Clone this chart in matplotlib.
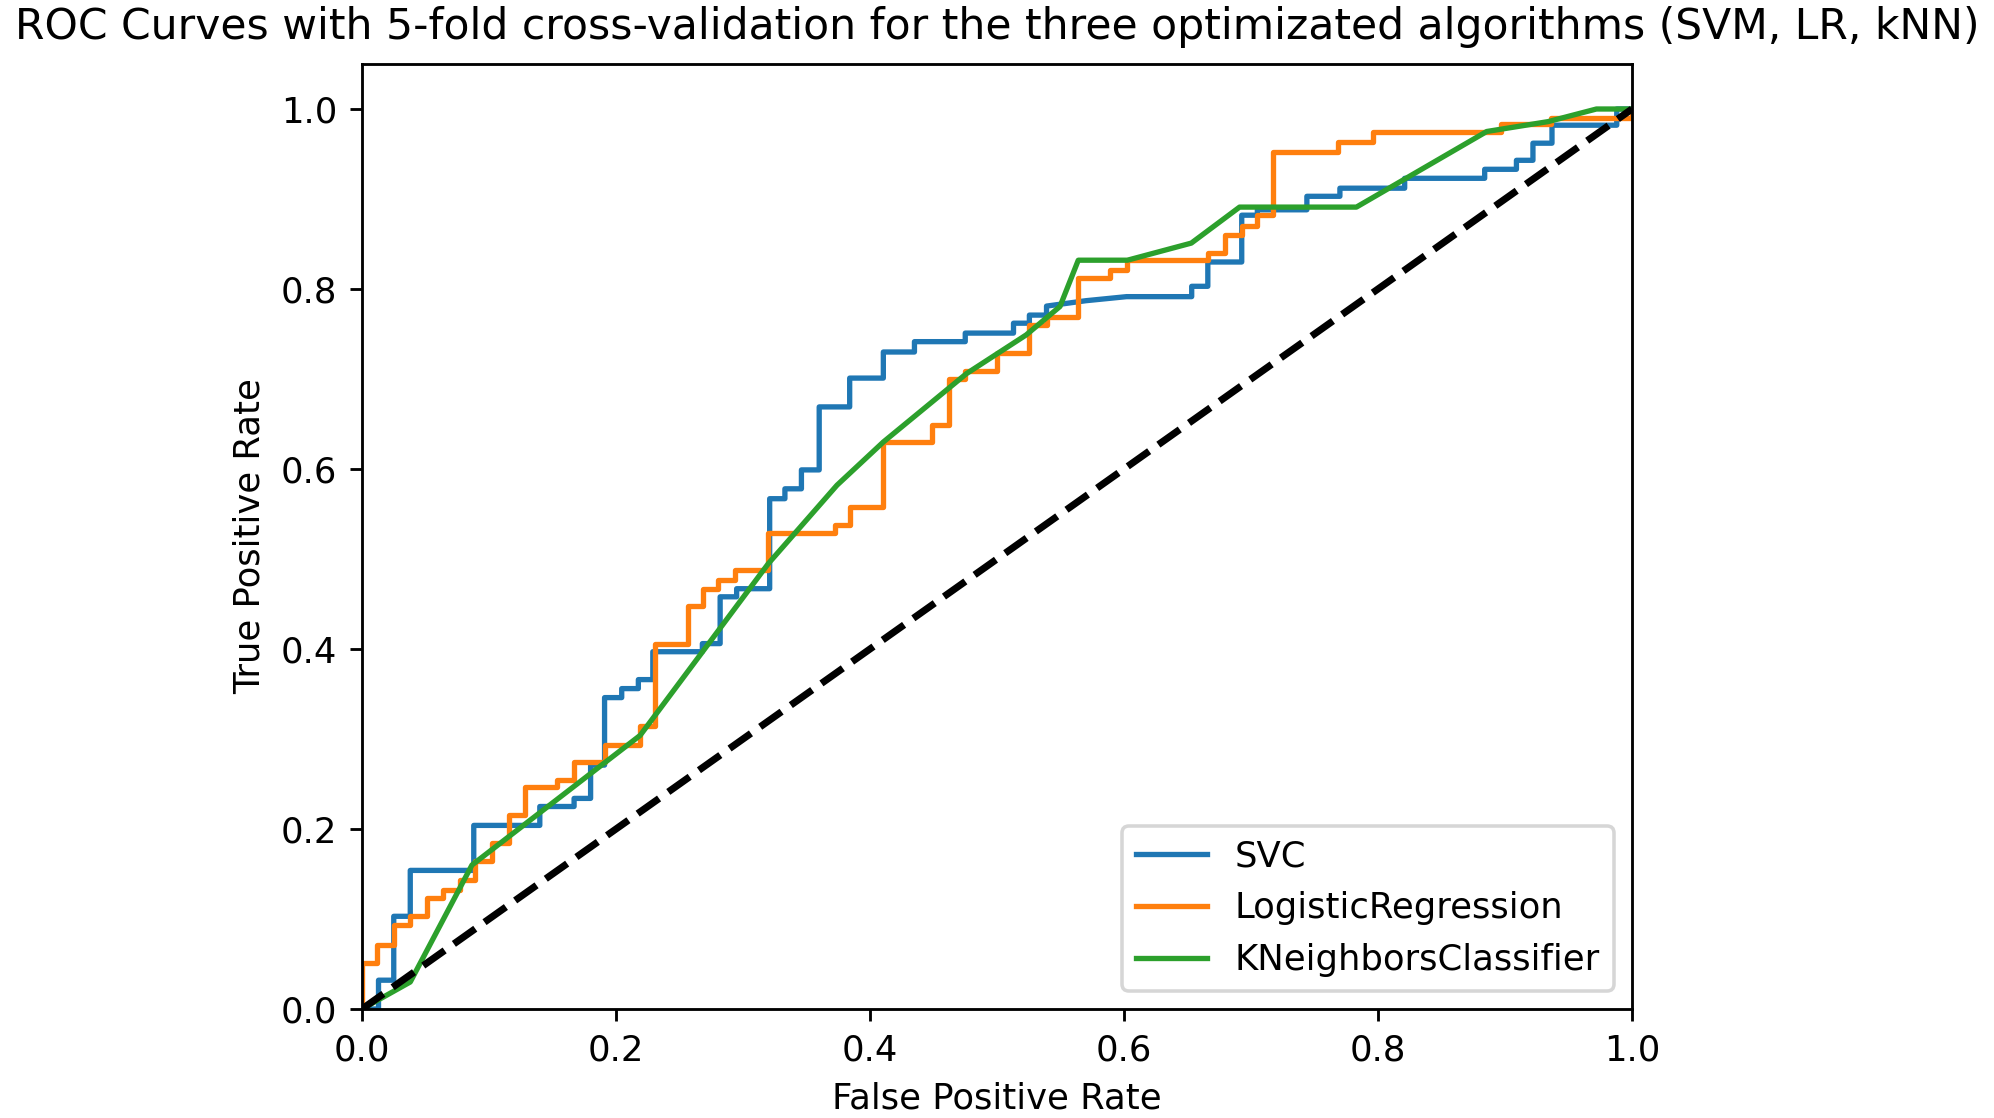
import matplotlib
matplotlib.use("Agg")
import matplotlib.pyplot as plt

# ROC vertices (fpr, tpr), one pair of lists per model
svc_fpr = [0, 0.013, 0.013, 0.025, 0.025, 0.038, 0.038, 0.088, 0.088, 0.140, 0.140, 0.167, 0.167,
           0.180, 0.180, 0.191, 0.191, 0.2045, 0.2045, 0.2176, 0.2176, 0.229, 0.229, 0.268, 0.268,
           0.282, 0.282, 0.295, 0.295, 0.321, 0.321, 0.333, 0.333, 0.346, 0.346, 0.360, 0.360,
           0.384, 0.384, 0.4105, 0.4105, 0.435, 0.435, 0.475, 0.475, 0.513, 0.513, 0.5255, 0.5255,
           0.539, 0.539, 0.57, 0.602, 0.6533, 0.6533, 0.666, 0.666, 0.6927, 0.6927, 0.705, 0.705,
           0.744, 0.744, 0.770, 0.770, 0.821, 0.821, 0.884, 0.884, 0.909, 0.909, 0.922, 0.922,
           0.937, 0.937, 0.988, 0.988, 1.0]
svc_tpr = [0, 0, 0.032, 0.032, 0.103, 0.103, 0.154, 0.154, 0.204, 0.204, 0.225, 0.225, 0.234,
           0.234, 0.271, 0.271, 0.346, 0.346, 0.356, 0.356, 0.366, 0.366, 0.397, 0.397, 0.406,
           0.406, 0.458, 0.458, 0.467, 0.467, 0.567, 0.567, 0.578, 0.578, 0.599, 0.599, 0.669,
           0.669, 0.701, 0.701, 0.730, 0.730, 0.7415, 0.7415, 0.751, 0.751, 0.762, 0.762, 0.771,
           0.771, 0.781, 0.787, 0.7915, 0.7915, 0.803, 0.803, 0.830, 0.830, 0.882, 0.882, 0.888,
           0.888, 0.903, 0.903, 0.912, 0.912, 0.923, 0.923, 0.933, 0.933, 0.943, 0.943, 0.962,
           0.962, 0.982, 0.982, 1.0, 1.0]

lr_fpr = [0, 0, 0.012, 0.012, 0.025, 0.025, 0.038, 0.038, 0.051, 0.051, 0.064, 0.064, 0.077, 0.077,
          0.089, 0.089, 0.102, 0.102, 0.1155, 0.1155, 0.1286, 0.1286, 0.1535, 0.1535, 0.167, 0.167,
          0.191, 0.191, 0.219, 0.219, 0.231, 0.231, 0.257, 0.257, 0.2685, 0.2685, 0.2806, 0.2806,
          0.294, 0.294, 0.320, 0.320, 0.3724, 0.3724, 0.384, 0.384, 0.4105, 0.4105, 0.4486, 0.4486,
          0.462, 0.462, 0.475, 0.475, 0.4998, 0.4998, 0.5255, 0.5255, 0.539, 0.539, 0.564, 0.564,
          0.589, 0.589, 0.602, 0.602, 0.666, 0.666, 0.6795, 0.6795, 0.6927, 0.6927, 0.7045, 0.7045,
          0.7176, 0.7176, 0.7688, 0.7688, 0.796, 0.796, 0.897, 0.897, 0.936, 0.936, 1.0, 1.0]
lr_tpr = [0, 0.051, 0.051, 0.071, 0.071, 0.093, 0.093, 0.103, 0.103, 0.123, 0.123, 0.132, 0.132,
          0.143, 0.143, 0.164, 0.164, 0.184, 0.184, 0.2156, 0.2156, 0.247, 0.247, 0.254, 0.254,
          0.275, 0.275, 0.293, 0.293, 0.314, 0.314, 0.406, 0.406, 0.448, 0.448, 0.467, 0.467,
          0.477, 0.477, 0.488, 0.488, 0.5285, 0.5285, 0.538, 0.538, 0.558, 0.558, 0.630, 0.630,
          0.649, 0.649, 0.700, 0.700, 0.709, 0.709, 0.7285, 0.7285, 0.760, 0.760, 0.769, 0.769,
          0.812, 0.812, 0.8206, 0.8206, 0.832, 0.832, 0.8397, 0.8397, 0.860, 0.860, 0.8696, 0.8696,
          0.882, 0.882, 0.9526, 0.9526, 0.9637, 0.9637, 0.975, 0.975, 0.983, 0.983, 0.99, 0.99, 1.0]

knn_fpr = [0, 0.038, 0.0866, 0.219, 0.32, 0.374, 0.4105, 0.476, 0.523, 0.5496, 0.564, 0.6027,
           0.653, 0.691, 0.783, 0.8856, 0.934, 0.972, 1.0]
knn_tpr = [0, 0.030, 0.160, 0.304, 0.495, 0.582, 0.630, 0.706, 0.749, 0.7806, 0.832, 0.832,
           0.851, 0.891, 0.891, 0.975, 0.986, 1.0, 1.0]

# default matplotlib look, rendered at a higher dpi so text and lines scale up
DPI = 255
fig = plt.figure(figsize=(1994 / DPI, 1118 / DPI), dpi=DPI)
ax = fig.add_axes([362 / 1994, 1 - 1009 / 1118, 1270 / 1994, 945 / 1118])

ax.plot(svc_fpr, svc_tpr, label="SVC")
ax.plot(lr_fpr, lr_tpr, label="LogisticRegression")
ax.plot(knn_fpr, knn_tpr, label="KNeighborsClassifier")
ax.plot([0, 1], [0, 1], "k--", lw=2)

ax.set_xlim(0.0, 1.0)
ax.set_ylim(0.0, 1.05)
ax.set_xlabel("False Positive Rate")
ax.set_ylabel("True Positive Rate")
ax.legend(loc="lower right")
fig.suptitle("ROC Curves with 5-fold cross-validation for the three optimizated algorithms (SVM, LR, kNN)",
             fontsize=12, y=0.995)

fig.savefig("out.png", dpi=DPI)
